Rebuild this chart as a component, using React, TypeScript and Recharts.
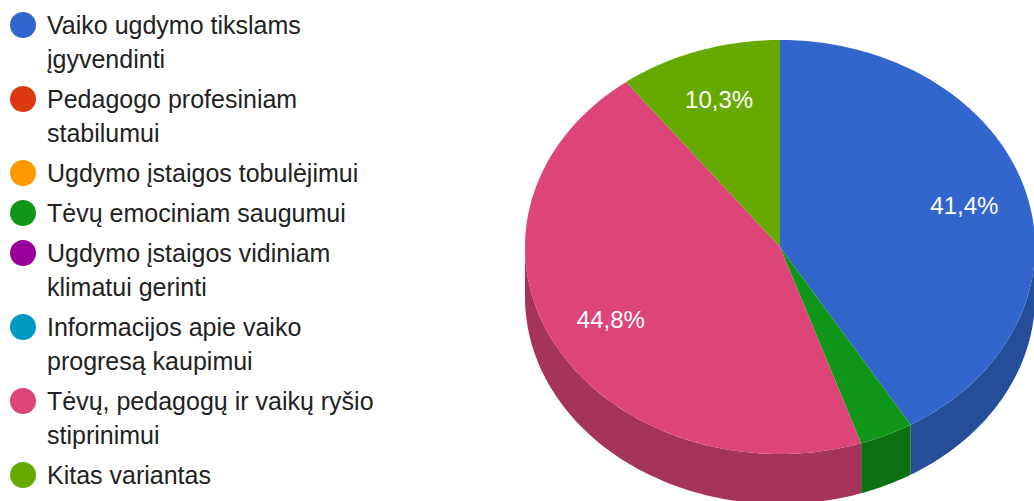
import React from 'react';
import { PieChart, Pie, Cell } from 'recharts';

// Answer options (legend order) and their share of responses, %
const OPTIONS = [
  'Vaiko ugdymo tikslams įgyvendinti',
  'Pedagogo profesiniam stabilumui',
  'Ugdymo įstaigos tobulėjimui',
  'Tėvų emociniam saugumui',
  'Ugdymo įstaigos vidiniam klimatui gerinti',
  'Informacijos apie vaiko progresą kaupimui',
  'Tėvų, pedagogų ir vaikų ryšio stiprinimui',
  'Kitas variantas',
];
const SHARES = [41.4, 0, 0, 3.4, 0, 0, 44.8, 10.3];
const COLORS = ['#3366cc', '#dc3912', '#ff9900', '#109618', '#990099', '#0099c6', '#dd4477', '#66aa00'];

const data = OPTIONS.map((name, i) => ({ name, value: SHARES[i] }));

const FONT = '"Liberation Sans", Arial, sans-serif';
const SQUASH = 207 / 255; // vertical/horizontal radius ratio of the tilted pie
const DEPTH = 50; // thickness of the 3d wall

// darken hex colour for the side wall
const darken = (hex: string, k = 0.75) => {
  const n = parseInt(hex.slice(1), 16);
  const r = Math.round(((n >> 16) & 255) * k);
  const g = Math.round(((n >> 8) & 255) * k);
  const b = Math.round((n & 255) * k);
  return `rgb(${r},${g},${b})`;
};

const pt = (cx: number, cy: number, rx: number, ry: number, deg: number) => {
  const r = (deg * Math.PI) / 180;
  return [cx + rx * Math.cos(r), cy - ry * Math.sin(r)];
};

const arcPoints = (cx, cy, rx, ry, from, to) => {
  const steps = Math.max(2, Math.ceil(Math.abs(to - from)));
  const out: number[][] = [];
  for (let i = 0; i <= steps; i++) out.push(pt(cx, cy, rx, ry, from + ((to - from) * i) / steps));
  return out;
};

// elliptical slice with visible front wall
const Slice3D = (props: any) => {
  const { cx, cy, outerRadius, startAngle, endAngle, fill } = props;
  if (Math.abs(startAngle - endAngle) < 0.01) return null;
  const rx = outerRadius;
  const ry = outerRadius * SQUASH;
  const hi = Math.max(startAngle, endAngle);
  const lo = Math.min(startAngle, endAngle);

  const top = arcPoints(cx, cy, rx, ry, hi, lo);
  const topPath = `M${cx},${cy} ` + top.map(p => `L${p[0]},${p[1]}`).join(' ') + ' Z';

  const walls: string[] = [];
  [[-180, 0], [-540, -360], [180, 360]].forEach(([a, b]) => {
    const s = Math.max(lo, a);
    const e = Math.min(hi, b);
    if (e - s <= 0.01) return;
    const upper = arcPoints(cx, cy, rx, ry, s, e);
    const lower = arcPoints(cx, cy + DEPTH, rx, ry, e, s);
    const all = [...upper, ...lower];
    walls.push('M' + all.map(p => `${p[0]},${p[1]}`).join(' L') + ' Z');
  });

  return (
    <g>
      {walls.map((d, i) => (
        <path key={i} d={d} fill={darken(fill)} stroke="none" />
      ))}
      <path d={topPath} fill={fill} stroke="none" />
    </g>
  );
};

const renderLabel = (props: any) => {
  const { cx, cy, outerRadius, midAngle, value } = props;
  if (value < 5) return null;
  const [x, y] = pt(cx, cy, outerRadius * 0.75, outerRadius * SQUASH * 0.75, midAngle);
  return (
    <text
      x={x}
      y={y}
      fill="#ffffff"
      fillOpacity={1}
      textAnchor="middle"
      dominantBaseline="central"
      fontFamily={FONT}
      fontSize={24}
    >
      {value.toFixed(1).replace('.', ',')}%
    </text>
  );
};

// legend keeps the original option order (zero-share options included)
const ChartLegend = () => (
  <div style={{ position: 'absolute', left: 0, top: 8, width: 420, fontFamily: FONT, fontSize: 25, color: '#222222' }}>
    {OPTIONS.map((name, i) => (
      <div key={`legend-${i}`} style={{ display: 'flex', alignItems: 'flex-start', marginBottom: 6 }}>
        <span
          style={{
            width: 26,
            height: 26,
            borderRadius: '50%',
            background: COLORS[i],
            marginLeft: 10,
            marginTop: 4,
            flex: '0 0 26px',
          }}
        />
        <span style={{ marginLeft: 11, width: 340, lineHeight: '34px' }}>{name}</span>
      </div>
    ))}
  </div>
);

const App = () => {
  return (
    <div style={{ position: 'absolute', left: 0, top: 0, width: 1034, height: 501, background: '#fff', overflow: 'hidden' }}>
      <PieChart width={1034} height={501} margin={{ top: 0, right: 0, bottom: 0, left: 0 }}>
        <Pie
          data={data}
          dataKey="value"
          nameKey="name"
          cx={780}
          cy={247}
          outerRadius={255}
          startAngle={90}
          endAngle={-270}
          stroke="none"
          shape={Slice3D}
          label={renderLabel}
          labelLine={false}
          isAnimationActive={false}
        >
          {data.map((entry, index) => (
            <Cell key={`cell-${index}`} fill={COLORS[index]} />
          ))}
        </Pie>
      </PieChart>
      <ChartLegend />
    </div>
  );
};

export default App;
